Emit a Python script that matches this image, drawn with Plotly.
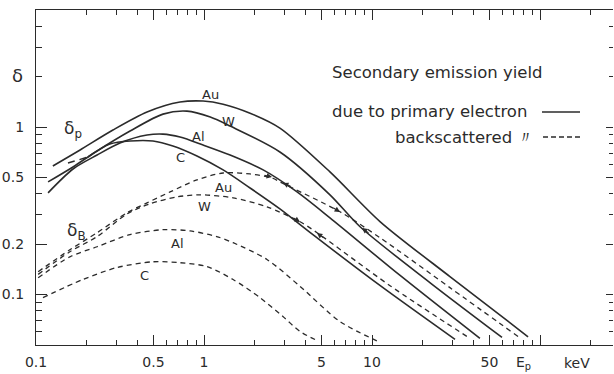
import plotly.graph_objects as go

# ---------------- data (E in keV, yield delta) ----------------
au_p_E = [0.126, 0.183, 0.287, 0.458, 0.72, 0.987, 1.3, 1.88, 2.83, 5.62, 11.2, 29.1, 84.9]
au_p_d = [0.586, 0.73, 0.96, 1.23, 1.41, 1.43, 1.37, 1.21, 0.986, 0.54, 0.272, 0.128, 0.056]
w_p_E = [0.118, 0.166, 0.231, 0.363, 0.570, 0.792, 1.09, 1.43, 2.83, 5.62, 8.49, 22.1, 59.4]
w_p_d = [0.471, 0.578, 0.720, 0.947, 1.195, 1.245, 1.147, 1.014, 0.710, 0.394, 0.254, 0.118, 0.0555]
al_p_E = [0.118, 0.166, 0.231, 0.316, 0.458, 0.570, 0.72, 0.987, 1.43, 2.25, 3.58, 5.62, 14.7, 43.9]
al_p_d = [0.405, 0.562, 0.681, 0.803, 0.896, 0.908, 0.872, 0.782, 0.681, 0.555, 0.410, 0.287, 0.130, 0.0547]
c_p_E = [0.204, 0.275, 0.363, 0.497, 0.653, 0.908, 1.30, 1.88, 2.83, 4.45, 11.2, 31.2]
c_p_d = [0.663, 0.792, 0.826, 0.826, 0.771, 0.672, 0.555, 0.433, 0.325, 0.228, 0.113, 0.054]
c_p_ext_E = [0.155, 0.204]
c_p_ext_d = [0.610, 0.663]

au_b_E = [0.103, 0.159, 0.231, 0.348, 0.458, 0.628, 0.908, 1.30, 1.88, 2.54, 2.91, 6.45, 11.2, 29.1, 74.0]
au_b_d = [0.137, 0.185, 0.234, 0.308, 0.353, 0.410, 0.484, 0.532, 0.525, 0.497, 0.464, 0.312, 0.218, 0.110, 0.0562]
w_b_E = [0.103, 0.159, 0.231, 0.348, 0.477, 0.690, 0.946, 1.49, 2.37, 3.73, 4.71, 12.8, 38.3]
w_b_d = [0.132, 0.180, 0.222, 0.303, 0.348, 0.383, 0.394, 0.378, 0.334, 0.272, 0.234, 0.113, 0.0547]
al_b_E = [0.103, 0.159, 0.231, 0.363, 0.570, 0.826, 1.19, 1.49, 2.37, 3.73, 6.45, 11.2]
al_b_d = [0.126, 0.168, 0.193, 0.228, 0.244, 0.240, 0.222, 0.204, 0.162, 0.112, 0.069, 0.0518]
c_b_E = [0.110, 0.190, 0.303, 0.497, 0.72, 1.04, 1.49, 2.15, 2.95, 3.73, 4.71]
c_b_d = [0.0960, 0.123, 0.145, 0.157, 0.155, 0.147, 0.123, 0.096, 0.074, 0.0602, 0.0532]

x_major = [0.1, 0.5, 1, 5, 10, 50, 100]
x_major_text = ["0.1", "0.5", "1", "5", "10", "50", " "]
x_minor = [0.2, 0.3, 0.4, 0.6, 0.7, 0.8, 0.9, 2, 3, 4, 6, 7, 8, 9,
           20, 30, 40, 60, 70, 80, 90, 200]
y_major = [0.1, 0.2, 0.5, 1]
y_major_text = ["0.1", "0.2", "0.5", "1"]
y_minor = [0.06, 0.07, 0.08, 0.09, 0.3, 0.4, 0.6, 0.7, 0.8, 0.9, 2, 3, 4]

# ---------------- layout geometry ----------------
W, H = 614, 374
PW, PH = 577, 335
L, T = 36, 10
R, B = W - L - PW, H - T - PH
INK = "#2b2b2b"
FONT = "DejaVu Sans"


def P(px, py):
    """screen pixel -> paper coords"""
    return (px - L) / PW, (T + PH - py) / PH


fig = go.Figure()

solid = dict(color=INK, width=1.6)
dashed = dict(color=INK, width=1.3, dash="5px,4px")

for E, d, ln in [
    (au_p_E, au_p_d, solid), (w_p_E, w_p_d, solid), (al_p_E, al_p_d, solid),
    (c_p_E, c_p_d, solid), (c_p_ext_E, c_p_ext_d, dict(color=INK, width=1.4, dash="7px,5px")),
    (au_b_E, au_b_d, dashed), (w_b_E, w_b_d, dashed), (al_b_E, al_b_d, dashed),
    (c_b_E, c_b_d, dashed),
]:
    fig.add_trace(go.Scatter(x=E, y=d, mode="lines", line=dict(shape="spline", smoothing=0.8, **ln),
                             showlegend=False, hoverinfo="skip"))

# invisible trace to activate the right-side mirrored y axis
fig.add_trace(go.Scatter(x=[1], y=[1], yaxis="y2", mode="markers", marker=dict(opacity=0),
                         showlegend=False, hoverinfo="skip"))

tickfont = dict(family=FONT, size=14, color=INK)

fig.update_layout(
    width=W, height=H, margin=dict(l=L, r=R, t=T, b=B, pad=0, autoexpand=False),
    paper_bgcolor="white", plot_bgcolor="white",
    xaxis=dict(type="log", range=[-1, -1 + PW / 168.0], showgrid=False, zeroline=False,
               automargin=False,
               showline=True, linecolor=INK, linewidth=1.2, mirror="ticks",
               ticks="inside", ticklen=10, tickwidth=1.1, tickcolor=INK,
               tickmode="array", tickvals=x_major, ticktext=x_major_text, tickfont=tickfont,
               ticklabelstandoff=4,
               minor=dict(tickmode="array", tickvals=x_minor, ticks="inside", ticklen=5,
                          tickwidth=1, tickcolor=INK, showgrid=False)),
    yaxis=dict(type="log", range=[-1.30103, 0.69897], showgrid=False, zeroline=False,
               automargin=False,
               showline=True, linecolor=INK, linewidth=1.2,
               ticks="inside", ticklen=11, tickwidth=1.1, tickcolor=INK,
               tickmode="array", tickvals=y_major, ticktext=y_major_text, tickfont=tickfont,
               ticklabelstandoff=8,
               minor=dict(tickmode="array", tickvals=y_minor, ticks="inside", ticklen=6,
                          tickwidth=1, tickcolor=INK, showgrid=False)),
    yaxis2=dict(type="log", range=[-1.30103, 0.69897], overlaying="y", side="right",
                automargin=False,
                showgrid=False, zeroline=False, showline=False, showticklabels=False,
                ticks="inside", ticklen=7, tickwidth=1, tickcolor=INK,
                tickmode="array", tickvals=y_major,
                minor=dict(tickmode="array", tickvals=y_minor, ticks="inside", ticklen=4,
                           tickwidth=1, tickcolor=INK, showgrid=False)),
)

ann = [
    ("Au", 210, 95, 13), ("W", 228, 121, 13), ("Al", 198, 136, 13), ("C", 180, 157, 13),
    ("Au", 223, 187, 13), ("W", 204, 206, 13), ("Al", 177, 243, 13), ("C", 144, 275, 13),
    ("δ<sub>p</sub>", 73, 129, 17), ("δ<sub>B</sub>", 76, 231, 17),
    ("δ", 17, 75, 18),
]
for text, px, py, size in ann:
    xx, yy = P(px, py)
    fig.add_annotation(x=xx, y=yy, xref="paper", yref="paper", text=text, showarrow=False,
                       xanchor="center", yanchor="middle", font=dict(family=FONT, size=size, color=INK))

legend_txt = [
    ("Secondary emission yield", 330, 72, 16.5),
    ("due to primary electron", 330, 111, 16.5),
    ("backscattered 〃", 393, 137, 16.5),
]
for text, px, py, size in legend_txt:
    xx, yy = P(px, py)
    fig.add_annotation(x=xx, y=yy, xref="paper", yref="paper", text=text, showarrow=False,
                       xanchor="left", yanchor="middle", font=dict(family=FONT, size=size, color=INK))

# axis unit labels below the axis
for text, px, py in [("E<sub>p</sub>", 523, 363), ("keV", 577, 363)]:
    xx, yy = P(px, py)
    fig.add_annotation(x=xx, y=yy, xref="paper", yref="paper", text=text, showarrow=False,
                       xanchor="center", yanchor="middle", font=dict(family=FONT, size=14, color=INK))

# small arrowheads marking where the hand-drawn curves cross (head pixel, tail offset)
arrows = [((272, 177), (-9, -2)), ((283, 183), (9, 4)), ((340, 212), (-8, -5)),
          ((362, 228), (8, 6)), ((300, 222), (-8, -5)), ((317, 233), (8, 6))]
for (hx, hy), (dx, dy) in arrows:
    xx, yy = P(hx, hy)
    fig.add_annotation(x=xx, y=yy, xref="paper", yref="paper", text="", showarrow=True,
                       ax=dx, ay=dy, arrowhead=2, arrowsize=0.9, arrowwidth=1.2, arrowcolor=INK)

# legend line samples
x0, y0 = P(542, 112)
x1, _ = P(580, 112)
fig.add_shape(type="line", xref="paper", yref="paper", x0=x0, x1=x1, y0=y0, y1=y0,
              line=dict(color=INK, width=1.4))
x0, y0 = P(543, 137)
x1, _ = P(580, 137)
fig.add_shape(type="line", xref="paper", yref="paper", x0=x0, x1=x1, y0=y0, y1=y0,
              line=dict(color=INK, width=1.3, dash="5px,3px"))

# the page body has a default 8 px margin; remove it so the figure fills the window
fig.write_html("out.html", config={"displayModeBar": False},
               post_script="document.body.style.margin='0';document.body.style.overflow='hidden';")
